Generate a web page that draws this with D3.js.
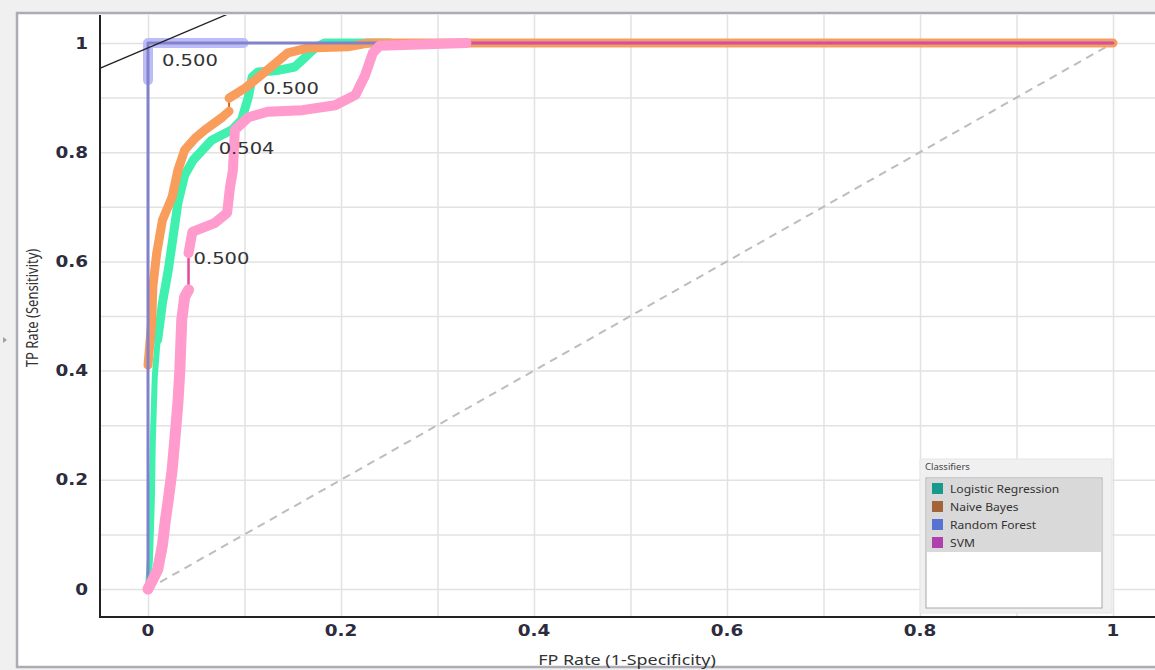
<!DOCTYPE html>
<html>
<head>
<meta charset="utf-8">
<script src="https://d3js.org/d3.v7.min.js"></script>
<style>
body { margin: 0; background: #f0f0f0; }
text { font-family: "DejaVu Sans", sans-serif; }
</style>
</head>
<body>
<div id="chart"></div>
<script>
// ROC points: FP rate / TP rate per classifier
var lrFpr = [0, 0.002, 0.004, 0.005, 0.007, 0.01, 0.015, 0.021, 0.026, 0.031, 0.038, 0.047, 0.066, 0.087, 0.097, 0.104, 0.108, 0.114, 0.132, 0.152, 0.163, 0.173, 0.183, 0.25, 1];
var lrTpr = [0, 0.053, 0.163, 0.273, 0.388, 0.456, 0.524, 0.584, 0.645, 0.707, 0.758, 0.786, 0.822, 0.841, 0.859, 0.901, 0.938, 0.947, 0.949, 0.956, 0.974, 0.991, 1, 1, 1];

var nbFpr = [0, 0, 0.004, 0.005, 0.009, 0.015, 0.025, 0.031, 0.038, 0.049, 0.059, 0.077, 0.084, 0.084, 0.101, 0.124, 0.145, 0.166, 0.207, 0.228, 1];
var nbTpr = [0, 0.41, 0.493, 0.553, 0.615, 0.676, 0.718, 0.767, 0.804, 0.826, 0.841, 0.864, 0.875, 0.899, 0.918, 0.951, 0.982, 0.991, 0.993, 1, 1];

var rfFpr = [0, 0, 1];
var rfTpr = [0, 1, 1];
var rfDenseFpr = [0, 0, 0.099];
var rfDenseTpr = [0.932, 1, 1];

var svmFpr = [0, 0.01, 0.015, 0.018, 0.021, 0.025, 0.028, 0.031, 0.033, 0.035, 0.038, 0.042, 0.042, 0.046, 0.069, 0.082, 0.085, 0.088, 0.09, 0.104, 0.124, 0.16, 0.194, 0.215, 0.225, 0.233, 0.24, 0.33, 1];
var svmTpr = [0, 0.035, 0.081, 0.126, 0.163, 0.218, 0.278, 0.341, 0.401, 0.493, 0.535, 0.548, 0.615, 0.654, 0.67, 0.689, 0.736, 0.767, 0.841, 0.864, 0.874, 0.877, 0.886, 0.905, 0.941, 0.982, 0.995, 1, 1];

var classifiers = ["Logistic Regression", "Naive Bayes", "Random Forest", "SVM"];
var legendColors = ["#17998b", "#a3643a", "#5673d2", "#ae41ae"];

// thresholds shown on the curves: RF, NB, LR, SVM
var thresholdText = ["0.500", "0.500", "0.504", "0.500"];
var thresholdFpr = [0, 0.084, 0.066, 0.042];
var thresholdTpr = [1, 0.89, 0.822, 0.58];

var tickValues = [0, 0.2, 0.4, 0.6, 0.8, 1];
var tickLabels = ["0", "0.2", "0.4", "0.6", "0.8", "1"];
var gridValues = [0, 0.1, 0.2, 0.3, 0.4, 0.5, 0.6, 0.7, 0.8, 0.9, 1];

// iso-performance line
var isoSlope = 0.75, isoIntercept = 0.991;

var width = 1155, height = 670;
var plot = { left: 100, top: 15, right: 1155, bottom: 617 };

var svg = d3.select("#chart")
    .append("svg")
    .attr("width", width)
    .attr("height", height);

// frame
svg.append("rect")
    .attr("x", 17).attr("y", 13)
    .attr("width", 1200).attr("height", 654)
    .attr("fill", "#fff")
    .attr("stroke", "#acacb4")
    .attr("stroke-width", 2.5);

svg.append("path")
    .attr("d", "M3,337L7,340L3,343Z")
    .attr("fill", "#a0a0a0");

var x = d3.scaleLinear().domain([0, 1]).range([148, 1113]);
var y = d3.scaleLinear().domain([0, 1]).range([589, 43]);

// grid
var gx = svg.append("g")
    .attr("transform", "translate(0," + plot.bottom + ")")
    .call(d3.axisBottom(x).tickValues(gridValues).tickSize(-(plot.bottom - plot.top)).tickFormat(""));
var gy = svg.append("g")
    .attr("transform", "translate(" + plot.left + ",0)")
    .call(d3.axisLeft(y).tickValues(gridValues).tickSize(-(plot.right - plot.left)).tickFormat(""));
[gx, gy].forEach(function (g) {
    g.select(".domain").remove();
    g.selectAll("line").attr("stroke", "#e2e2e2").attr("stroke-width", 1.5);
});

svg.append("clipPath").attr("id", "clip")
    .append("rect")
    .attr("x", plot.left).attr("y", plot.top)
    .attr("width", plot.right - plot.left).attr("height", plot.bottom - plot.top);

var area = svg.append("g").attr("clip-path", "url(#clip)");

var line = d3.line()
    .x(function (d) { return x(d[0]); })
    .y(function (d) { return y(d[1]); });

function band(pts, color, w) {
    area.append("path")
        .datum(pts)
        .attr("d", line)
        .attr("fill", "none")
        .attr("stroke", color)
        .attr("stroke-width", w)
        .attr("stroke-linejoin", "round")
        .attr("stroke-linecap", "round");
}

function label(i, dx, dy) {
    svg.append("text")
        .attr("transform", "translate(" + (x(thresholdFpr[i]) + dx) + "," + (y(thresholdTpr[i]) + dy) + ") scale(1.22,1)")
        .attr("dominant-baseline", "central")
        .attr("font-size", 16)
        .attr("fill", "#333")
        .text(thresholdText[i]);
}

// chance diagonal
area.append("path")
    .datum([[0, 0], [1, 1]])
    .attr("d", line)
    .attr("stroke", "#bdbdbd")
    .attr("stroke-width", 2)
    .attr("stroke-dasharray", "8,6");

var lr = d3.zip(lrFpr, lrTpr);
var nb = d3.zip(nbFpr, nbTpr);
var rf = d3.zip(rfFpr, rfTpr);
var rfDense = d3.zip(rfDenseFpr, rfDenseTpr);
var svm = d3.zip(svmFpr, svmTpr);

// Logistic Regression (sparse points near the bottom)
band(lr.slice(0, 6), "#3ff0ae", 6);
band(lr.slice(5, 24), "#3ff0ae", 9);

// Naive Bayes (gap at its threshold point)
band(nb, "#d2691e", 2);
band(nb.slice(1, 13), "#f99d5c", 9);
band(nb.slice(13), "#f99d5c", 9);

label(2, 7, 8);
label(1, 34, -15);

// Random Forest
band(rfDense, "#bcbcf8", 10);
band(rf, "#8282cc", 3);

// iso-performance line
area.append("path")
    .datum([[-0.1, isoIntercept - 0.1 * isoSlope], [0.2, isoIntercept + 0.2 * isoSlope]])
    .attr("d", line)
    .attr("stroke", "#222")
    .attr("stroke-width", 1.3);

// SVM
band(svm, "#e4489c", 2.5);
band(svm.slice(0, 12), "#ff9bcd", 11);
band(svm.slice(12, 28), "#ff9bcd", 10);

label(3, 5, -14);
label(0, 14, 17);

// axis lines
svg.append("path")
    .attr("d", "M" + plot.left + "," + plot.top + "V" + plot.bottom + "H" + plot.right)
    .attr("fill", "none")
    .attr("stroke", "#222")
    .attr("stroke-width", 2);

// tick labels
svg.selectAll(".ytick")
    .data(tickValues)
    .enter().append("text")
    .attr("transform", function (d) { return "translate(88," + y(d) + ") scale(1.15,1)"; })
    .attr("text-anchor", "end")
    .attr("dominant-baseline", "central")
    .attr("font-size", 16)
    .attr("font-weight", "bold")
    .attr("fill", "#2c2c3e")
    .text(function (d, i) { return tickLabels[i]; });

svg.selectAll(".xtick")
    .data(tickValues)
    .enter().append("text")
    .attr("transform", function (d) { return "translate(" + x(d) + ",630) scale(1.15,1)"; })
    .attr("text-anchor", "middle")
    .attr("dominant-baseline", "central")
    .attr("font-size", 16)
    .attr("font-weight", "bold")
    .attr("fill", "#2c2c3e")
    .text(function (d, i) { return tickLabels[i]; });

// axis titles
svg.append("text")
    .attr("transform", "translate(627,665) scale(1.28,1)")
    .attr("text-anchor", "middle")
    .style("font-family", "'Noto Sans', sans-serif")
    .attr("font-size", 14)
    .attr("fill", "#333")
    .text("FP Rate (1-Specificity)");

svg.append("text")
    .attr("transform", "translate(38,308) scale(1.28,1) rotate(-90)")
    .attr("text-anchor", "middle")
    .style("font-family", "'Noto Sans', sans-serif")
    .attr("font-size", 13)
    .attr("fill", "#333")
    .text("TP Rate (Sensitivity)");

// legend
var lg = svg.append("g");
lg.append("rect")
    .attr("x", 920).attr("y", 459).attr("width", 192).attr("height", 154)
    .attr("fill", "#f0f0f0").attr("stroke", "#e6e6e6");
lg.append("text")
    .attr("x", 925).attr("y", 470)
    .style("font-family", "'Noto Sans', sans-serif")
    .attr("font-size", 9.5)
    .attr("fill", "#444")
    .text("Classifiers");
lg.append("rect")
    .attr("x", 926).attr("y", 478).attr("width", 176).attr("height", 130)
    .attr("fill", "#fff").attr("stroke", "#a8a8a8");
lg.append("rect")
    .attr("x", 927).attr("y", 479).attr("width", 174).attr("height", 73)
    .attr("fill", "#d9d9d9");

var item = lg.selectAll(".item")
    .data(classifiers)
    .enter().append("g")
    .attr("transform", function (d, i) { return "translate(932," + (489 + i * 18) + ")"; });
item.append("rect")
    .attr("x", 0).attr("y", -6).attr("width", 11).attr("height", 11)
    .attr("fill", function (d, i) { return legendColors[i]; });
item.append("text")
    .attr("transform", "translate(18,0) scale(1.1,1)")
    .attr("dominant-baseline", "central")
    .style("font-family", "'Noto Sans', sans-serif")
    .attr("font-size", 11)
    .attr("fill", "#333")
    .text(function (d) { return d; });
</script>
</body>
</html>
